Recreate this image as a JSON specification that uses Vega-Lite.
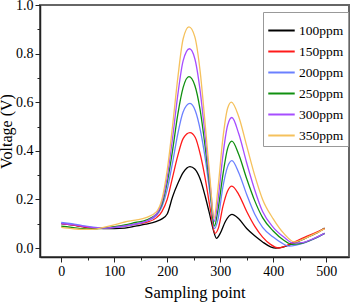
{
  "$schema": "https://vega.github.io/schema/vega-lite/v6.json",
  "width": 309,
  "height": 252,
  "autosize": {"type": "none"},
  "padding": {"left": 40, "top": 5, "right": 2, "bottom": 47},
  "background": "white",
  "config": {
    "view": {"stroke": "#666666", "strokeWidth": 2},
    "font": "Liberation Serif",
    "axis": {"labelFont": "Liberation Serif", "titleFont": "Liberation Serif", "labelColor": "#000", "titleColor": "#000", "tickColor": "#222", "domainColor": "#222", "grid": false}
  },
  "datasets": {
    "curves": [
      {"s":"100ppm","x":0,"y":0.100},{"s":"100ppm","x":20,"y":0.095},{"s":"100ppm","x":40,"y":0.088},{"s":"100ppm","x":60,"y":0.082},{"s":"100ppm","x":80,"y":0.080},{"s":"100ppm","x":100,"y":0.080},{"s":"100ppm","x":120,"y":0.082},{"s":"100ppm","x":140,"y":0.090},{"s":"100ppm","x":160,"y":0.098},{"s":"100ppm","x":180,"y":0.110},{"s":"100ppm","x":190,"y":0.120},{"s":"100ppm","x":200,"y":0.140},{"s":"100ppm","x":210,"y":0.210},{"s":"100ppm","x":220,"y":0.265},{"s":"100ppm","x":230,"y":0.310},{"s":"100ppm","x":243,"y":0.335},{"s":"100ppm","x":252,"y":0.325},{"s":"100ppm","x":262,"y":0.285},{"s":"100ppm","x":272,"y":0.210},{"s":"100ppm","x":281,"y":0.130},{"s":"100ppm","x":287,"y":0.075},{"s":"100ppm","x":293,"y":0.040},{"s":"100ppm","x":300,"y":0.060},{"s":"100ppm","x":310,"y":0.110},{"s":"100ppm","x":322,"y":0.138},{"s":"100ppm","x":335,"y":0.120},{"s":"100ppm","x":350,"y":0.080},{"s":"100ppm","x":365,"y":0.050},{"s":"100ppm","x":380,"y":0.025},{"s":"100ppm","x":395,"y":0.005},{"s":"100ppm","x":405,"y":0.000},{"s":"100ppm","x":420,"y":0.005},{"s":"100ppm","x":440,"y":0.020},{"s":"100ppm","x":460,"y":0.040},{"s":"100ppm","x":480,"y":0.060},{"s":"100ppm","x":497,"y":0.082},
      {"s":"150ppm","x":0,"y":0.100},{"s":"150ppm","x":20,"y":0.095},{"s":"150ppm","x":40,"y":0.088},{"s":"150ppm","x":60,"y":0.083},{"s":"150ppm","x":80,"y":0.082},{"s":"150ppm","x":100,"y":0.085},{"s":"150ppm","x":120,"y":0.090},{"s":"150ppm","x":140,"y":0.097},{"s":"150ppm","x":160,"y":0.105},{"s":"150ppm","x":180,"y":0.125},{"s":"150ppm","x":190,"y":0.150},{"s":"150ppm","x":200,"y":0.200},{"s":"150ppm","x":210,"y":0.290},{"s":"150ppm","x":220,"y":0.380},{"s":"150ppm","x":230,"y":0.450},{"s":"150ppm","x":243,"y":0.475},{"s":"150ppm","x":253,"y":0.455},{"s":"150ppm","x":263,"y":0.380},{"s":"150ppm","x":273,"y":0.270},{"s":"150ppm","x":282,"y":0.150},{"s":"150ppm","x":290,"y":0.060},{"s":"150ppm","x":297,"y":0.085},{"s":"150ppm","x":305,"y":0.170},{"s":"150ppm","x":314,"y":0.235},{"s":"150ppm","x":322,"y":0.255},{"s":"150ppm","x":335,"y":0.220},{"s":"150ppm","x":350,"y":0.150},{"s":"150ppm","x":365,"y":0.090},{"s":"150ppm","x":380,"y":0.045},{"s":"150ppm","x":395,"y":0.015},{"s":"150ppm","x":410,"y":0.000},{"s":"150ppm","x":425,"y":0.010},{"s":"150ppm","x":440,"y":0.025},{"s":"150ppm","x":460,"y":0.045},{"s":"150ppm","x":480,"y":0.063},{"s":"150ppm","x":497,"y":0.080},
      {"s":"200ppm","x":0,"y":0.105},{"s":"200ppm","x":20,"y":0.100},{"s":"200ppm","x":40,"y":0.092},{"s":"200ppm","x":60,"y":0.086},{"s":"200ppm","x":80,"y":0.082},{"s":"200ppm","x":100,"y":0.084},{"s":"200ppm","x":120,"y":0.090},{"s":"200ppm","x":140,"y":0.098},{"s":"200ppm","x":160,"y":0.110},{"s":"200ppm","x":180,"y":0.135},{"s":"200ppm","x":190,"y":0.170},{"s":"200ppm","x":200,"y":0.240},{"s":"200ppm","x":210,"y":0.350},{"s":"200ppm","x":220,"y":0.470},{"s":"200ppm","x":230,"y":0.560},{"s":"200ppm","x":243,"y":0.595},{"s":"200ppm","x":253,"y":0.565},{"s":"200ppm","x":263,"y":0.480},{"s":"200ppm","x":273,"y":0.350},{"s":"200ppm","x":282,"y":0.200},{"s":"200ppm","x":289,"y":0.080},{"s":"200ppm","x":296,"y":0.120},{"s":"200ppm","x":305,"y":0.250},{"s":"200ppm","x":314,"y":0.335},{"s":"200ppm","x":322,"y":0.360},{"s":"200ppm","x":335,"y":0.310},{"s":"200ppm","x":350,"y":0.220},{"s":"200ppm","x":365,"y":0.140},{"s":"200ppm","x":380,"y":0.085},{"s":"200ppm","x":400,"y":0.045},{"s":"200ppm","x":415,"y":0.022},{"s":"200ppm","x":430,"y":0.008},{"s":"200ppm","x":445,"y":0.013},{"s":"200ppm","x":460,"y":0.022},{"s":"200ppm","x":480,"y":0.040},{"s":"200ppm","x":497,"y":0.060},
      {"s":"250ppm","x":0,"y":0.090},{"s":"250ppm","x":20,"y":0.085},{"s":"250ppm","x":40,"y":0.080},{"s":"250ppm","x":60,"y":0.078},{"s":"250ppm","x":80,"y":0.082},{"s":"250ppm","x":100,"y":0.088},{"s":"250ppm","x":120,"y":0.095},{"s":"250ppm","x":140,"y":0.105},{"s":"250ppm","x":160,"y":0.115},{"s":"250ppm","x":180,"y":0.140},{"s":"250ppm","x":190,"y":0.180},{"s":"250ppm","x":200,"y":0.270},{"s":"250ppm","x":210,"y":0.400},{"s":"250ppm","x":220,"y":0.550},{"s":"250ppm","x":230,"y":0.660},{"s":"250ppm","x":241,"y":0.705},{"s":"250ppm","x":252,"y":0.670},{"s":"250ppm","x":262,"y":0.570},{"s":"250ppm","x":272,"y":0.410},{"s":"250ppm","x":282,"y":0.220},{"s":"250ppm","x":289,"y":0.090},{"s":"250ppm","x":296,"y":0.160},{"s":"250ppm","x":305,"y":0.300},{"s":"250ppm","x":314,"y":0.410},{"s":"250ppm","x":322,"y":0.440},{"s":"250ppm","x":335,"y":0.385},{"s":"250ppm","x":350,"y":0.285},{"s":"250ppm","x":365,"y":0.195},{"s":"250ppm","x":380,"y":0.125},{"s":"250ppm","x":400,"y":0.070},{"s":"250ppm","x":420,"y":0.032},{"s":"250ppm","x":435,"y":0.015},{"s":"250ppm","x":450,"y":0.018},{"s":"250ppm","x":470,"y":0.032},{"s":"250ppm","x":497,"y":0.060},
      {"s":"300ppm","x":0,"y":0.100},{"s":"300ppm","x":20,"y":0.096},{"s":"300ppm","x":40,"y":0.090},{"s":"300ppm","x":60,"y":0.084},{"s":"300ppm","x":80,"y":0.082},{"s":"300ppm","x":100,"y":0.085},{"s":"300ppm","x":120,"y":0.091},{"s":"300ppm","x":140,"y":0.099},{"s":"300ppm","x":160,"y":0.110},{"s":"300ppm","x":180,"y":0.140},{"s":"300ppm","x":190,"y":0.190},{"s":"300ppm","x":200,"y":0.290},{"s":"300ppm","x":210,"y":0.450},{"s":"300ppm","x":220,"y":0.630},{"s":"300ppm","x":230,"y":0.770},{"s":"300ppm","x":242,"y":0.820},{"s":"300ppm","x":252,"y":0.780},{"s":"300ppm","x":262,"y":0.650},{"s":"300ppm","x":272,"y":0.450},{"s":"300ppm","x":282,"y":0.240},{"s":"300ppm","x":289,"y":0.110},{"s":"300ppm","x":296,"y":0.200},{"s":"300ppm","x":305,"y":0.380},{"s":"300ppm","x":314,"y":0.505},{"s":"300ppm","x":322,"y":0.537},{"s":"300ppm","x":335,"y":0.470},{"s":"300ppm","x":350,"y":0.350},{"s":"300ppm","x":365,"y":0.240},{"s":"300ppm","x":380,"y":0.150},{"s":"300ppm","x":400,"y":0.085},{"s":"300ppm","x":420,"y":0.045},{"s":"300ppm","x":438,"y":0.020},{"s":"300ppm","x":455,"y":0.022},{"s":"300ppm","x":475,"y":0.038},{"s":"300ppm","x":497,"y":0.060},
      {"s":"350ppm","x":0,"y":0.085},{"s":"350ppm","x":20,"y":0.080},{"s":"350ppm","x":40,"y":0.077},{"s":"350ppm","x":60,"y":0.077},{"s":"350ppm","x":80,"y":0.085},{"s":"350ppm","x":100,"y":0.095},{"s":"350ppm","x":120,"y":0.107},{"s":"350ppm","x":140,"y":0.115},{"s":"350ppm","x":160,"y":0.125},{"s":"350ppm","x":180,"y":0.150},{"s":"350ppm","x":190,"y":0.200},{"s":"350ppm","x":200,"y":0.320},{"s":"350ppm","x":210,"y":0.500},{"s":"350ppm","x":220,"y":0.700},{"s":"350ppm","x":230,"y":0.860},{"s":"350ppm","x":241,"y":0.910},{"s":"350ppm","x":252,"y":0.870},{"s":"350ppm","x":262,"y":0.730},{"s":"350ppm","x":272,"y":0.500},{"s":"350ppm","x":281,"y":0.280},{"s":"350ppm","x":288,"y":0.120},{"s":"350ppm","x":296,"y":0.250},{"s":"350ppm","x":305,"y":0.450},{"s":"350ppm","x":314,"y":0.575},{"s":"350ppm","x":321,"y":0.600},{"s":"350ppm","x":335,"y":0.540},{"s":"350ppm","x":350,"y":0.420},{"s":"350ppm","x":365,"y":0.300},{"s":"350ppm","x":380,"y":0.200},{"s":"350ppm","x":400,"y":0.120},{"s":"350ppm","x":420,"y":0.060},{"s":"350ppm","x":440,"y":0.025},{"s":"350ppm","x":460,"y":0.040},{"s":"350ppm","x":480,"y":0.060},{"s":"350ppm","x":497,"y":0.080}
    ]
  },
  "data": {"name": "curves"},
  "layer": [
    {
      "mark": {"type": "line", "strokeWidth": 1.3, "interpolate": "monotone"},
      "encoding": {
        "x": {"field": "x", "type": "quantitative", "scale": {"domain": [-40, 543], "nice": false, "zero": false},
          "axis": {"orient": "bottom", "values": [0,100,200,300,400,500], "title": "Sampling point", "labelFontSize": 14, "titleFontSize": 16.5, "titleFontWeight": "normal", "tickSize": 5, "labelPadding": 2, "titlePadding": 6, "domainWidth": 1.5}},
        "y": {"field": "y", "type": "quantitative", "scale": {"domain": [-0.037, 1.0], "nice": false, "zero": false},
          "axis": {"orient": "left", "values": [0,0.2,0.4,0.6,0.8,1.0], "format": ".1f", "title": "Voltage (V)", "labelFontSize": 14, "titleFontSize": 16, "titleFontWeight": "normal", "tickSize": 5, "labelPadding": 2, "titlePadding": 1, "domainWidth": 1.5}},
        "color": {"field": "s", "type": "nominal",
          "scale": {"domain": ["100ppm","150ppm","200ppm","250ppm","300ppm","350ppm"], "range": ["#000000","#ff1a1a","#6b80ff","#109010","#a64dff","#f5c15c"]},
          "legend": {"title": null, "orient": "none", "legendX": 223, "legendY": 7, "symbolType": "stroke", "symbolSize": 700, "symbolStrokeWidth": 2, "labelFont": "Liberation Serif", "labelFontSize": 13.5, "labelColor": "#000", "rowPadding": 0, "labelOffset": 3, "padding": 4, "strokeColor": "#999999", "fillColor": "white"}}
      }
    },
    {
      "mark": {"type": "line", "opacity": 0},
      "encoding": {
        "x": {"field": "x", "type": "quantitative", "axis": {"orient": "bottom", "values": [50,150,250,350,450], "labels": false, "domain": false, "title": null, "tickSize": 3}},
        "y": {"field": "y", "type": "quantitative", "axis": {"orient": "left", "values": [0.1,0.3,0.5,0.7,0.9], "labels": false, "domain": false, "title": null, "tickSize": 3}}
      }
    }
  ],
  "resolve": {"axis": {"x": "independent", "y": "independent"}}
}
